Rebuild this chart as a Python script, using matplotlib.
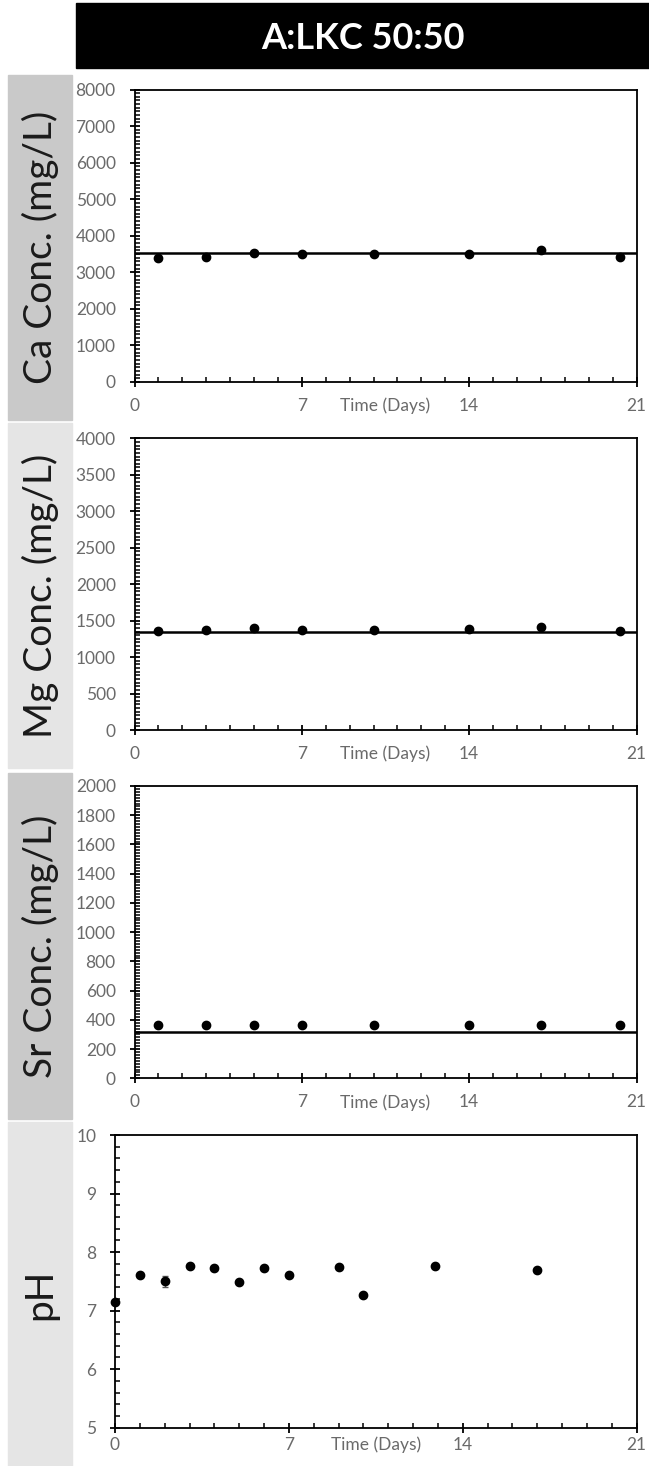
import matplotlib
matplotlib.use("Agg")
import matplotlib.pyplot as plt
from matplotlib.patches import Rectangle
from matplotlib.ticker import MultipleLocator

plt.rcParams['font.family'] = ['Lato', 'DejaVu Sans']

# data
title = "A:LKC 50:50"
conc_days = [1, 3, 5, 7, 10, 14, 17, 20.3]
ca_conc = [3400, 3420, 3540, 3495, 3495, 3510, 3620, 3420]
mg_conc = [1360, 1375, 1400, 1375, 1375, 1390, 1415, 1360]
sr_conc = [362, 362, 367, 362, 362, 362, 362, 367]
ref_days = [0, 21]
ca_ref = [3540, 3540]
mg_ref = [1345, 1345]
sr_ref = [320, 320]

ph_days = [0, 1, 2, 3, 4, 5, 6, 7, 9, 10, 12.9, 17]
ph_vals = [7.14, 7.61, 7.50, 7.77, 7.72, 7.49, 7.73, 7.60, 7.75, 7.27, 7.76, 7.70]
ph_err = [0.02, 0.02, 0.09, 0.02, 0.02, 0.02, 0.02, 0.02, 0.02, 0.02, 0.02, 0.02]

x_ticks = [0, 7, 14, 21]

W, H = 649, 1466
fig = plt.figure(figsize=(W / 100, H / 100), dpi=100)

def px_axes(l, t, r, b):
    return fig.add_axes([l / W, 1 - b / H, (r - l) / W, (b - t) / H])

def px_rect(l, t, r, b, color):
    fig.patches.append(Rectangle((l / W, 1 - b / H), (r - l) / W, (b - t) / H,
                                 transform=fig.transFigure, color=color, zorder=0))

# header
px_rect(75.7, 3.3, 649, 68.3, 'black')
fig.text(363 / W, 1 - 38.5 / H, title, color='white', fontsize=26,
         fontweight='bold', ha='center', va='center')

grey_dark = '#c9c9c9'
grey_light = '#e5e5e5'
tick_col = '#6a6a6a'

panels = [
    # label, y data, ref, ymax, major, minor, box(top,bottom), axes(top,bottom), box colour
    ("Ca Conc. (mg/L)", ca_conc, ca_ref, 8000, 1000, 100, (75, 420), (89.5, 382), grey_dark),
    ("Mg Conc. (mg/L)", mg_conc, mg_ref, 4000, 500, 50, (422.7, 768.3), (438.3, 730), grey_light),
    ("Sr Conc. (mg/L)", sr_conc, sr_ref, 2000, 200, 20, (773.3, 1119.3), (786, 1078.3), grey_dark),
]

def style_axis(ax, xlab_off):
    for s in ax.spines.values():
        s.set_linewidth(1.3)
        s.set_color('black')
    ax.set_xlim(0, 21)
    ax.set_xticks(x_ticks)
    ax.xaxis.set_minor_locator(MultipleLocator(1))
    ax.tick_params(which='major', direction='inout', length=7, width=1.3,
                   labelsize=12.5, labelcolor=tick_col, color='black')
    ax.tick_params(axis='y', which='major', pad=10)
    ax.tick_params(axis='x', which='major', pad=xlab_off)
    ax.tick_params(which='minor', direction='in', length=3.5, width=1.1, color='black')
    ax.annotate('Time (Days)', xy=(10.5, 0), xycoords=ax.get_xaxis_transform(),
                xytext=(0, -17.3 if xlab_off > 5 else -12.5), textcoords='offset points',
                ha='center', va='center', fontsize=12.5, color=tick_col)

for label, yv, ref, ymax, major, minor, box, axb, col in panels:
    px_rect(8.3, box[0], 72.3, box[1], col)
    fig.text(40 / W, 1 - (box[0] + box[1]) / 2 / H, label, rotation=90,
             fontsize=28, ha='center', va='center', color='#1a1a1a')
    ax = px_axes(134.5, axb[0], 636.5, axb[1])
    ax.plot(ref_days, ref, color='black', linewidth=1.8, zorder=2)
    ax.plot(conc_days, yv, 'o', color='black', markersize=6, zorder=3, clip_on=False)
    ax.set_ylim(0, ymax)
    ax.yaxis.set_major_locator(MultipleLocator(major))
    ax.yaxis.set_minor_locator(MultipleLocator(minor))
    style_axis(ax, 8)

# pH panel
px_rect(8.3, 1122.3, 72.3, 1466, grey_light)
fig.text(40 / W, 1 - (1122.3 + 1466) / 2 / H, "pH", rotation=90,
         fontsize=28, ha='center', va='center', color='#1a1a1a')
ax = px_axes(115, 1135, 636.5, 1427.7)
ax.errorbar(ph_days, ph_vals, yerr=ph_err, fmt='o', color='black', markersize=6,
            ecolor='#555555', elinewidth=1, capsize=2, zorder=3, clip_on=False)
ax.set_ylim(5, 10)
ax.yaxis.set_major_locator(MultipleLocator(1))
ax.yaxis.set_minor_locator(MultipleLocator(0.2))
style_axis(ax, 3)

fig.savefig('out.png', dpi=100)
